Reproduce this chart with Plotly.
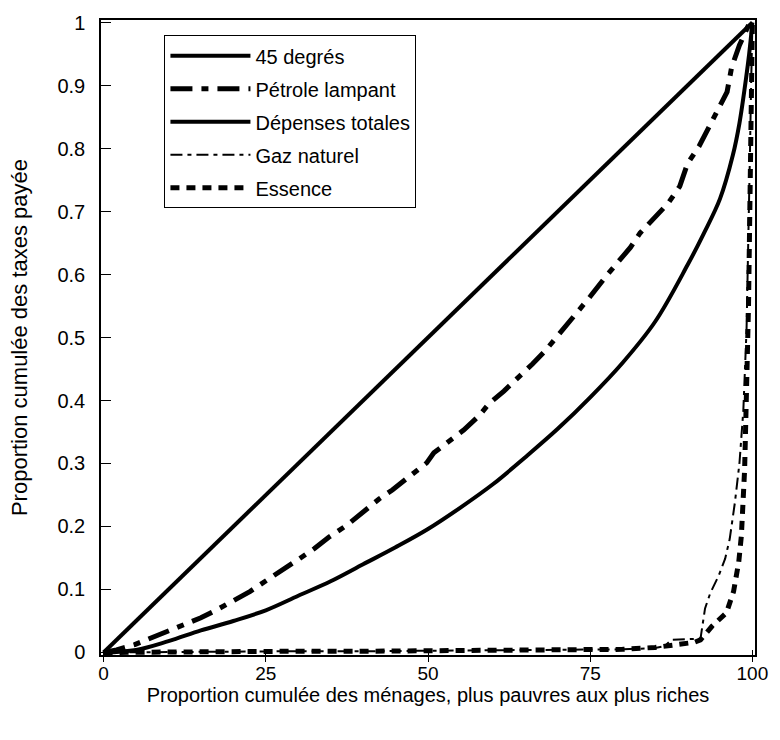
import plotly.graph_objects as go

# 45-degree line
deg_x = [0, 100]
deg_y = [0, 1]

# Pétrole lampant
pet_x = [0, 2, 4.8, 7, 10, 12.5, 15, 17.5, 20, 22.6, 25.2, 27.5, 30.2, 32.5, 34.7, 37.5, 40, 42.5,
         44.5, 46.8, 49.8, 50.9, 52.9, 55.5, 57.9, 59.4, 61.7, 63.9, 66.1, 68, 70, 72.5, 75, 77.5,
         80, 81.2, 82.7, 85.2, 87, 88.8, 90, 91.8, 93.3, 95, 96.1, 96.8, 98, 99.5, 100]
pet_y = [0, 0.004, 0.0125, 0.022, 0.034, 0.045, 0.055, 0.068, 0.083, 0.097, 0.115, 0.13, 0.149,
         0.165, 0.183, 0.202, 0.224, 0.244, 0.258, 0.277, 0.301, 0.317, 0.332, 0.353, 0.376, 0.395,
         0.415, 0.436, 0.458, 0.478, 0.502, 0.533, 0.565, 0.598, 0.628, 0.643, 0.666, 0.693, 0.713,
         0.74, 0.776, 0.804, 0.834, 0.865, 0.89, 0.929, 0.964, 0.998, 1.0]

# Dépenses totales
dep_x = [0, 5, 10, 15, 20, 25, 30, 35, 40, 45, 50, 55, 60, 65, 70, 75, 80, 85, 90, 92.5, 95, 97,
         98, 99, 99.5, 100]
dep_y = [0, 0.004, 0.018, 0.035, 0.05, 0.067, 0.09, 0.113, 0.14, 0.167, 0.196, 0.23, 0.267, 0.31,
         0.355, 0.405, 0.46, 0.525, 0.615, 0.665, 0.72, 0.79, 0.84, 0.91, 0.95, 1.0]

# Gaz naturel
gaz_x = [0, 10, 20, 30, 40, 50, 60, 70, 80, 85, 86.5, 87.5, 90, 92, 92.7, 93.5, 94.8, 95.8, 96.5,
         97.3, 98, 98.6, 99.1, 99.3, 99.6, 99.8, 100]
gaz_y = [0, 0.001, 0.001, 0.002, 0.002, 0.003, 0.003, 0.004, 0.005, 0.007, 0.01, 0.02, 0.021,
         0.022, 0.07, 0.094, 0.122, 0.149, 0.18, 0.238, 0.3, 0.384, 0.514, 0.6, 0.78, 0.9, 1.0]

# Essence
ess_x = [0, 10, 20, 30, 40, 50, 60, 70, 80, 85, 88, 91, 92, 93.8, 96, 97.1, 97.9, 98.3, 98.8,
         99.1, 99.4, 99.6, 99.8, 100]
ess_y = [0, 0.001, 0.001, 0.002, 0.002, 0.003, 0.003, 0.004, 0.005, 0.008, 0.012, 0.016, 0.02,
         0.042, 0.063, 0.097, 0.144, 0.185, 0.29, 0.4, 0.55, 0.7, 0.88, 1.0]

x_ticks = [0, 25, 50, 75, 100]
y_ticks = [0, 0.1, 0.2, 0.3, 0.4, 0.5, 0.6, 0.7, 0.8, 0.9, 1]
y_tick_text = ["0", "0.1", "0.2", "0.3", "0.4", "0.5", "0.6", "0.7", "0.8", "0.9", "1"]

FONT = "Liberation Sans, Arial, sans-serif"

fig = go.Figure()
series = [
    ("45 degrés", deg_x, deg_y, 4, "solid", "linear"),
    ("Pétrole lampant", pet_x, pet_y, 5, "22px,9px,7px,9px", "linear"),
    ("Dépenses totales", dep_x, dep_y, 4, "solid", "spline"),
    ("Gaz naturel", gaz_x, gaz_y, 2, "12px,5px,4px,5px", "linear"),
    ("Essence", ess_x, ess_y, 5, "9px,7px", "linear"),
]
for i, (name, xs, ys, w, dash, shape) in enumerate(series):
    fig.add_trace(go.Scatter(x=xs, y=ys, mode="lines", name=name, legendgroup=f"g{i}",
                             line=dict(color="black", width=w, dash=dash, shape=shape)))

# empty helper trace so the overlaid tick-only axis is drawn
fig.add_trace(go.Scatter(x=[], y=[], xaxis="x2", showlegend=False, hoverinfo="skip"))

fig.update_layout(
    width=780, height=740,
    margin=dict(l=101, r=19, t=17, b=85),
    paper_bgcolor="white", plot_bgcolor="white",
    font=dict(family=FONT, color="black"),
    showlegend=True,
    legend=dict(x=0.097, y=0.976, xanchor="left", yanchor="top",
                bgcolor="white", bordercolor="black", borderwidth=1,
                font=dict(size=20, family=FONT), itemwidth=80, tracegroupgap=4),
    xaxis=dict(range=[-0.4, 100.4], tickvals=x_ticks, ticktext=[str(v) for v in x_ticks],
               ticks="outside", ticklen=5, tickcolor="black", tickwidth=1,
               showline=True, linecolor="black", linewidth=1.5, mirror=True,
               showgrid=False, zeroline=False, tickfont=dict(size=19),
               ticklabelstandoff=-5,
               title=dict(text="Proportion cumulée des ménages, plus pauvres aux plus riches",
                          font=dict(size=20), standoff=4)),
    xaxis2=dict(range=[-0.4, 100.4], tickvals=x_ticks, overlaying="x", anchor="y", side="bottom",
                ticks="inside", ticklen=5, tickcolor="black", tickwidth=1,
                showticklabels=False, showgrid=False, zeroline=False, showline=False),
    yaxis=dict(range=[-0.004, 1.004], tickvals=y_ticks, ticktext=y_tick_text,
               ticks="inside", ticklen=10, tickcolor="black", tickwidth=1,
               showline=True, linecolor="black", linewidth=1.5, mirror=True,
               showgrid=False, zeroline=False, tickfont=dict(size=20),
               ticklabelstandoff=10,
               title=dict(text="Proportion cumulée des taxes payée", font=dict(size=22),
                          standoff=24)),
)

fig.write_html("out.html")
